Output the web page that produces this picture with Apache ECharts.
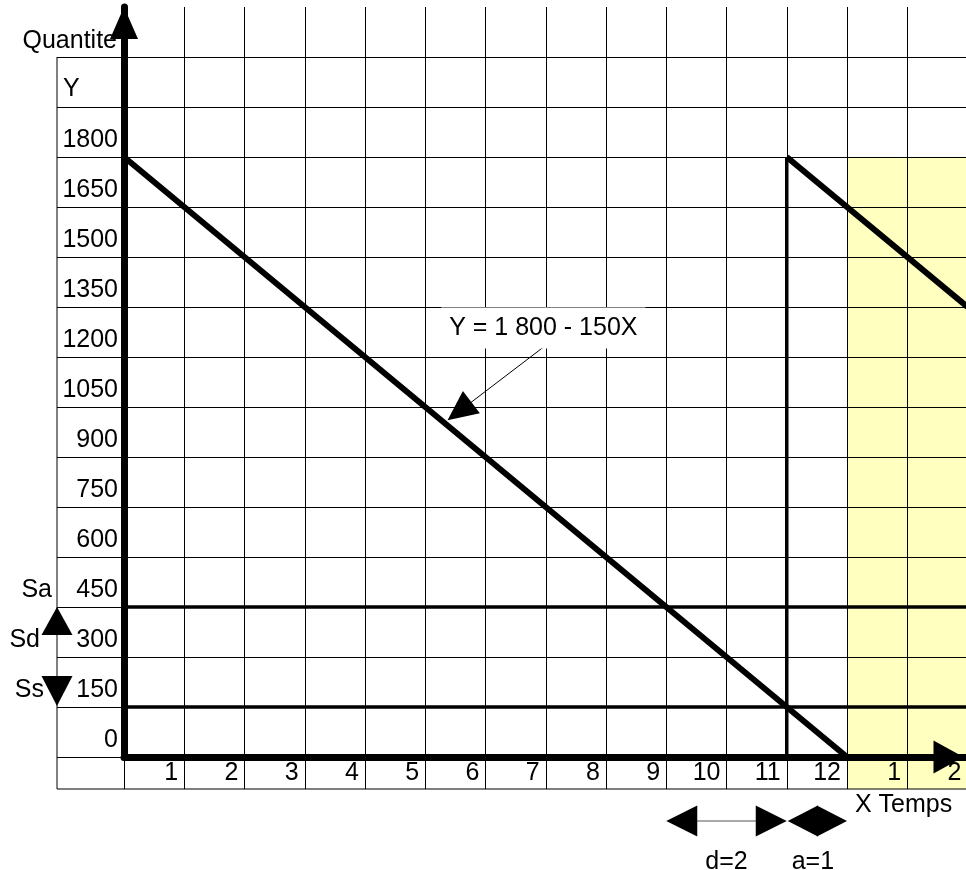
<!DOCTYPE html>
<html><head><meta charset="utf-8">
<script src="https://cdn.jsdelivr.net/npm/echarts@6/dist/echarts.min.js"></script>
<style>html,body{margin:0;padding:0;background:#fff}#c{width:966px;height:870px}</style>
</head><body><div id="c"></div>
<script>
// ---- data ----
const xTickLabels = ['', '1','2','3','4','5','6','7','8','9','10','11','12','1','2'];
const yTickValues = [0,150,300,450,600,750,900,1050,1200,1350,1500,1650,1800];
const rowBorderValues = [0,150,300,450,600,750,900,1050,1200,1350,1500,1650,1800,1950,2100];
const stockLine1 = [[0,1800],[12,0]];
const reorderDrop = [[11,0],[11,1800]];
const stockLine2 = [[11,1800],[14,1350]];
const alertLevel = [[0,450],[14,450]];      // Sa
const safetyLevel = [[0,150],[14,150]];     // Ss
const nextYearSpan = [12,14];
const nextYearTop = 1800;
const formulaText = 'Y = 1 800 - 150X';
const formulaAnchor = [6.96, 1287];
const formulaArrow = [[7,1235],[5.37,1010]];
const delaySpan = [9,11];   // d=2
const reviewSpan = [11,12]; // a=1
const leftLabels = [['Sa',450],['Sd',300],['Ss',150]];

const FONT = "'Liberation Sans', Arial, sans-serif";
const FS = 25;
const chart = echarts.init(document.getElementById('c'), null, {renderer:'canvas', width:966, height:870});

function lineSeries(data, width, z){
  return {type:'line', data:data, symbol:'none', z:z||6, silent:true,
    lineStyle:{color:'#000', width:width, cap:'butt'}, animation:false};
}

const option = {
  animation:false,
  backgroundColor:'#fff',
  textStyle:{fontFamily:FONT},
  grid:{left:124, top:7, width:843.5, height:750, containLabel:false, outerBoundsMode:'none'},
  xAxis:{type:'value', min:0, max:14, interval:1, z:5,
    axisLine:{show:true, onZero:false, symbol:['none','triangle'], symbolSize:[33,30], symbolOffset:[0,-19],
      lineStyle:{color:'#000', width:7}},
    axisTick:{show:true, length:32, inside:false, lineStyle:{color:'#000', width:1}},
    axisLabel:{show:true, color:'#000', fontSize:FS, fontFamily:FONT, margin:0, align:'right',
      verticalAlign:'top', lineHeight:33, padding:[0,6,0,0], showMinLabel:true, showMaxLabel:true,
      formatter:function(v){ const s = xTickLabels[Math.round(v)]; return s==null?'':s; }},
    splitLine:{show:true, lineStyle:{color:'#000', width:1}}
  },
  yAxis:{type:'value', min:0, max:2250, interval:150, z:5,
    axisLine:{show:true, onZero:false, symbol:['none','triangle'], symbolSize:[28,32], symbolOffset:[0,-16],
      lineStyle:{color:'#000', width:7}},
    axisTick:{show:true, length:67, inside:false, customValues:rowBorderValues, lineStyle:{color:'#000', width:1}},
    axisLabel:{show:true, color:'#000', fontSize:FS, fontFamily:FONT, margin:6, align:'right',
      verticalAlign:'bottom', lineHeight:34, customValues:yTickValues,
      formatter:function(v){ return yTickValues.indexOf(v)>=0 ? String(v) : ''; }},
    splitLine:{show:true, lineStyle:{color:'#000', width:1}}
  },
  series:[
    lineSeries(stockLine1, 6),
    lineSeries(reorderDrop, 3.5),
    lineSeries(stockLine2, 6),
    lineSeries(alertLevel, 3.5),
    lineSeries(safetyLevel, 3.5)
  ]
};
chart.setOption(option);

// ---- annotations placed through the chart's scales ----
function P(x,y){ return chart.convertToPixel({gridIndex:0}, [x,y]); }
function tri(tip, dx, dy, len, w){
  const n = Math.sqrt(dx*dx+dy*dy); dx/=n; dy/=n;
  const bx = tip[0]-dx*len, by = tip[1]-dy*len;
  const px = -dy*w/2, py = dx*w/2;
  return {type:'polygon', z:20, shape:{points:[[tip[0],tip[1]],[bx+px,by+py],[bx-px,by-py]]}, style:{fill:'#000'}};
}
function txt(text, x, y, align, extra){
  return {type:'text', z:20, style:Object.assign({text:text, x:x, y:y, fill:'#000', font:FS+'px '+FONT,
    align:align, verticalAlign:'middle'}, extra||{})};
}

const x0 = P(0,0)[0], y0 = P(0,0)[1];
const rowBottom = y0 + 32;
const colLeft = x0 - 67;
const g = [];
// next-year shaded area
const yA = P(nextYearSpan[0], nextYearTop), yB = P(nextYearSpan[1], 0);
g.push({type:'rect', z:1, shape:{x:yA[0], y:yA[1], width:yB[0]-yA[0]+2, height:rowBottom-yA[1]}, style:{fill:'#FFFFC0'}});
// spreadsheet borders of label column/row
g.push({type:'line', z:5, shape:{x1:colLeft, y1:P(0,2100)[1], x2:colLeft, y2:rowBottom}, style:{stroke:'#000', lineWidth:1}});
g.push({type:'line', z:5, shape:{x1:colLeft, y1:rowBottom, x2:970, y2:rowBottom}, style:{stroke:'#000', lineWidth:1}});
// left texts
g.push(txt('Quantite', x0-7, P(0,2100)[1]-16, 'right'));
g.push(txt('Y', colLeft+6, P(0,1950)[1]-18, 'left'));
const leftX = {Sa:52, Sd:40, Ss:44};
leftLabels.forEach(function(l){ g.push(txt(l[0], leftX[l[0]], P(0,l[1])[1]-17, 'right')); });
// Sd double arrow between Sa and Ss
g.push(tri([colLeft, P(0,450)[1]], 0, -1, 28, 31));
g.push(tri([colLeft, P(0,150)[1]-1], 0, 1, 30, 31));
// formula label and arrow
const fa = P(formulaAnchor[0], formulaAnchor[1]);
const s = P(formulaArrow[0][0], formulaArrow[0][1]);
const t = P(formulaArrow[1][0], formulaArrow[1][1]);
const ddx = t[0]-s[0], ddy = t[1]-s[1], dl = Math.sqrt(ddx*ddx+ddy*ddy);
g.push({type:'line', z:19, shape:{x1:s[0], y1:s[1], x2:t[0]-ddx/dl*20, y2:t[1]-ddy/dl*20}, style:{stroke:'#000', lineWidth:1}});
g.push(tri(t, ddx, ddy, 30, 28));
g.push(txt(formulaText, fa[0], fa[1], 'center', {backgroundColor:'#fff', padding:[8,8,8,8]}));
// bottom annotations
const ay = y0 + 64;
const d1 = P(delaySpan[0],0)[0], d2 = P(delaySpan[1],0)[0];
g.push({type:'line', z:19, shape:{x1:d1+30, y1:ay, x2:d2-30, y2:ay}, style:{stroke:'#555', lineWidth:1}});
g.push(tri([d1, ay], -1, 0, 31, 31));
g.push(tri([d2, ay], 1, 0, 31, 31));
const a1 = P(reviewSpan[0],0)[0], a2 = P(reviewSpan[1],0)[0];
g.push(tri([a1+1, ay], -1, 0, (a2-a1)/2, 31));
g.push(tri([a2, ay], 1, 0, (a2-a1)/2, 31));
g.push(txt('d=2', (d1+d2)/2, y0+105, 'center'));
g.push(txt('a=1', (a1+a2)/2-4, y0+105, 'center'));
g.push(txt('X Temps', x0+731, y0+48, 'left'));

chart.setOption({graphic:{elements:g}});
</script>
</body></html>
